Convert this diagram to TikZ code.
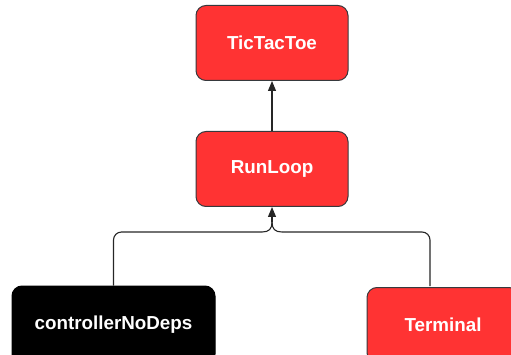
\documentclass[tikz,border=0pt]{standalone}
\usepackage{fontspec}
\setmainfont{Liberation Sans}
\usetikzlibrary{arrows.meta}
\definecolor{boxred}{RGB}{255,51,51}
\definecolor{boxline}{RGB}{54,57,61}
\tikzset{
  box/.style={draw=boxline, line width=1pt, rounded corners=10pt, fill=boxred,
    text=white, font=\fontsize{18.8}{22}\selectfont\bfseries,
    minimum width=152pt, minimum height=75pt, inner sep=0pt},
  darkbox/.style={box, fill=black, draw=black, minimum width=203pt, minimum height=78pt},
  wire/.style={draw=black!85, line width=1.1pt},
  link/.style={wire, -{Triangle[length=10pt,width=8pt]}},
}
\begin{document}
\begin{tikzpicture}[x=1pt,y=-1pt]
\useasboundingbox (0,0) rectangle (511,355);
\clip (0,0) rectangle (511,355);
\node[box] (ttt) at (272,43) {TicTacToe};
\node[box] (run) at (272,169) {RunLoop};
\node[darkbox] (ctrl) at (113.5,325) {controllerNoDeps};
\node[box] (term) at (443,325) {Terminal};
\coordinate (termtop) at (430,286);
\coordinate (cj) at (272,222);
\draw[link] (run.north) -- (ttt.south);
\draw[wire, rounded corners=8pt] (ctrl.north) |- (262,232);
\draw[wire, rounded corners=8pt] (termtop) |- (282,232);
\draw[wire] (262,232) .. controls (269,232) and (272,229) .. (cj);
\draw[wire] (282,232) .. controls (275,232) and (272,229) .. (cj);
\draw[link] (cj) -- (run.south);
\end{tikzpicture}
\end{document}
